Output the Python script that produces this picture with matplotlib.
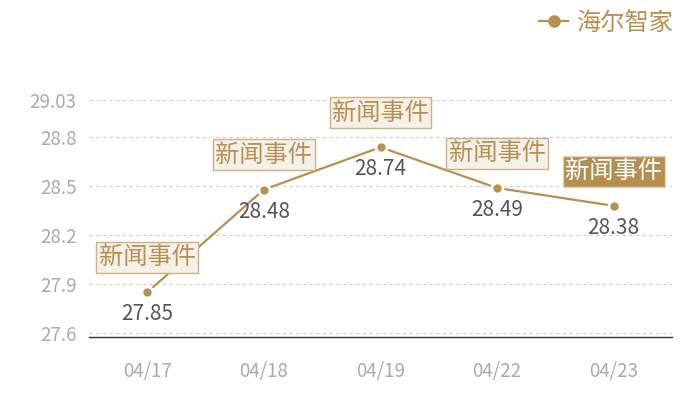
import matplotlib
matplotlib.use("Agg")
import matplotlib.pyplot as plt
from matplotlib.lines import Line2D

plt.rcParams['font.family'] = ['Noto Sans CJK SC', 'DejaVu Sans']

dates = ["04/17", "04/18", "04/19", "04/22", "04/23"]
values = [27.85, 28.48, 28.74, 28.49, 28.38]
events = ["新闻事件", "新闻事件", "新闻事件", "新闻事件", "新闻事件"]
highlight = [False, False, False, False, True]
yticks = [27.6, 27.9, 28.2, 28.5, 28.8, 29.03]
series_name = "海尔智家"

LINE = "#b8904f"
TXT = "#b8904f"

fig = plt.figure(figsize=(7, 4), dpi=100)
ax = fig.add_axes([89/700, 63/400, (672-89)/700, (337-100)/400])

x = list(range(len(dates)))
ax.plot(x, values, color=LINE, lw=1.6, marker='o', markersize=8,
        markerfacecolor=LINE, markeredgecolor='white', markeredgewidth=2, zorder=3)

for i, v in enumerate(values):
    ax.annotate(f"{v:.2f}", (i, v), xytext=(0, -16), textcoords='offset points',
                ha='center', va='center', fontsize=15, color='#555555', zorder=4)
    if highlight[i]:
        bb = dict(boxstyle='square,pad=0.1', fc='#b58f52', ec='#e3d2b2', lw=1)
        col = 'white'
    else:
        bb = dict(boxstyle='square,pad=0.1', fc='#f4f0ea', ec='#cfb184', lw=1)
        col = TXT
    ax.annotate(events[i], (i, v), xytext=(0, 25), textcoords='offset points',
                ha='center', va='center', fontsize=17.5, color=col, bbox=bb,
                zorder=5, annotation_clip=False)

ax.set_xlim(-0.5, len(dates) - 0.5)
ax.set_ylim(27.575, 29.03)
ax.set_xticks(x)
ax.set_xticklabels(dates)
ax.set_yticks(yticks)
ax.set_yticklabels([f"{t:g}" for t in yticks])
ax.tick_params(axis='both', length=0, labelsize=13.5, labelcolor='#aaaaaa')
ax.tick_params(axis='x', pad=17)
ax.tick_params(axis='y', pad=9)
ax.grid(axis='y', color='#d0d0d0', linestyle=(0, (3, 3)), lw=0.8)
ax.set_axisbelow(True)
for s in ['top', 'right', 'left']:
    ax.spines[s].set_visible(False)
ax.spines['bottom'].set_color('#333333')
ax.spines['bottom'].set_linewidth(1)

handle = Line2D([], [], color=LINE, lw=1.6, marker='o', markersize=8,
                markerfacecolor=LINE, markeredgecolor=LINE)
fig.legend([handle], [series_name], loc='upper right', bbox_to_anchor=(0.975, 1.0),
           frameon=False, fontsize=17.5, labelcolor=TXT, handlelength=1.2,
           handletextpad=0.3, borderaxespad=0.0)

fig.savefig("out.png", dpi=100)
